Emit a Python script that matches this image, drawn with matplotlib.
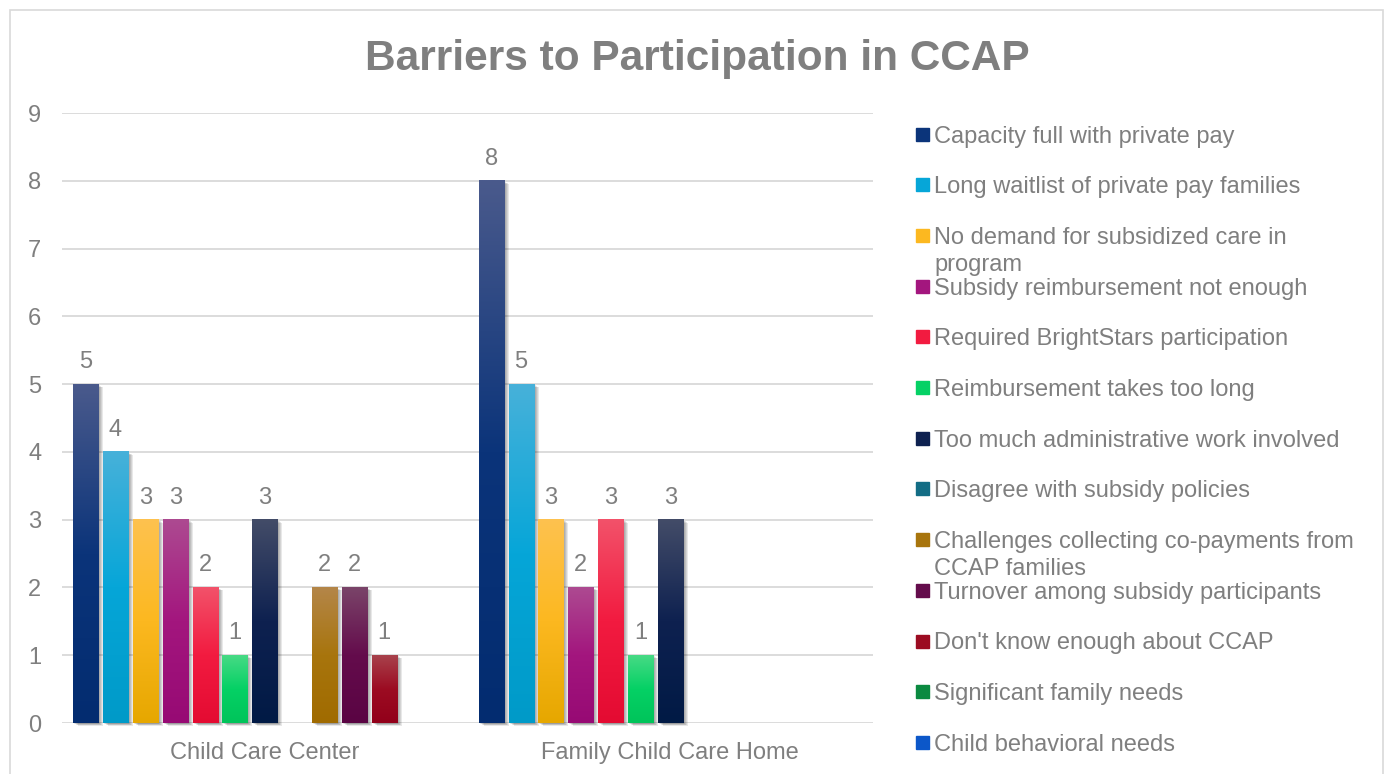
import textwrap
import numpy as np
import matplotlib
matplotlib.use("Agg")
import matplotlib.pyplot as plt
from matplotlib.colors import LinearSegmentedColormap
from matplotlib.patches import Rectangle
from matplotlib.transforms import offset_copy

plt.rcParams['font.family'] = ['Liberation Sans', 'DejaVu Sans']

categories = ["Child Care Center", "Family Child Care Home"]
barriers = [
    "Capacity full with private pay",
    "Long waitlist of private pay families",
    "No demand for subsidized care in program",
    "Subsidy reimbursement not enough",
    "Required BrightStars participation",
    "Reimbursement takes too long",
    "Too much administrative work involved",
    "Disagree with subsidy policies",
    "Challenges collecting co-payments from CCAP families",
    "Turnover among subsidy participants",
    "Don't know enough about CCAP",
    "Significant family needs",
    "Child behavioral needs",
]
center_counts = [5, 4, 3, 3, 2, 1, 3, 0, 2, 2, 1, 0, 0]
home_counts = [8, 5, 3, 2, 3, 1, 3, 0, 0, 0, 0, 0, 0]

# (top, middle, bottom) of each bar's gradient
shades = [
    ("#4a5a8c", "#0b347a", "#032c70"),
    ("#47b1da", "#06a6d8", "#009ac8"),
    ("#fec24f", "#fcb820", "#e6a700"),
    ("#ad4a91", "#a3167e", "#970a74"),
    ("#f3526a", "#f21b40", "#e40b32"),
    ("#47da85", "#05d165", "#00c45a"),
    ("#434c68", "#0e2150", "#011a45"),
    ("#4a8a9c", "#136d85", "#0b5f75"),
    ("#b48649", "#a8750d", "#a06b00"),
    ("#7a4469", "#640c4c", "#5a0443"),
    ("#a8424c", "#9c0c22", "#92001a"),
    ("#4aa56e", "#0b8a40", "#067d36"),
    ("#4a7fd8", "#0c57c9", "#0a4dbf"),
]

grey = "#7f7f7f"
W, H = 1387, 774
fig = plt.figure(figsize=(W / 100, H / 100), dpi=100)


def fx(px):
    return px / W


def fy(py):
    return 1 - py / H


ax = fig.add_axes([fx(62), fy(723), fx(873 - 62), (723 - 113) / H])

x = np.arange(len(categories))
step = 0.0736
width = 0.0617
counts = np.array([center_counts, home_counts]).T
grad = np.linspace(0, 1, 256).reshape(-1, 1)

for i, name in enumerate(barriers):
    top, mid, low = shades[i]
    cmap = LinearSegmentedColormap.from_list("g%d" % i, [(0, low), (0.5, mid), (1, top)])
    bars = ax.bar(x + (i - 6) * step, counts[i], width, color=mid, zorder=3)
    for b, v in zip(bars, counts[i]):
        if v == 0:
            continue
        x0, w, h = b.get_x(), b.get_width(), b.get_height()
        # soft drop shadow to the lower right
        for d in range(1, 6):
            tr = offset_copy(ax.transData, fig=fig, x=d, y=-d * 0.6, units="dots")
            ax.add_patch(Rectangle((x0, 0), w, h, transform=tr, color="black",
                                   alpha=0.09, lw=0, zorder=2.5, clip_on=False))
        ax.imshow(grad, extent=(x0, x0 + w, 0, h), origin="lower", cmap=cmap,
                  aspect="auto", zorder=4, interpolation="bilinear")
        ax.annotate(str(v), (x0 + w / 2, h), xytext=(0, 8), textcoords="offset points",
                    ha="center", va="bottom", fontsize=17, color=grey)

ax.set_xlim(-0.5, 1.5)
ax.set_ylim(0, 9)
ax.set_yticks(range(10))
ax.set_xticks(x)
ax.set_xticklabels(categories)
ax.grid(axis="y", color="#d9d9d9", lw=1.3, zorder=0)
ax.set_axisbelow(True)
for s in ax.spines.values():
    s.set_visible(False)
ax.tick_params(axis="both", length=0, labelsize=17, labelcolor=grey)
ax.tick_params(axis="y", pad=15)
ax.tick_params(axis="x", pad=14)

# legend down the right side; wrapped lines hang below the entry
for i, name in enumerate(barriers):
    yc = 134 + i * 50.7
    fig.patches.append(Rectangle((fx(916), fy(yc + 6.5)), fx(13), 13 / H,
                                 transform=fig.transFigure, color=shades[i][1]))
    for k, line in enumerate(textwrap.wrap(name, 38)):
        fig.text(fx(934), fy(yc + 8.5 + k * 27), line, va="baseline",
                 fontsize=17, color=grey)

fig.text(fx(697), fy(70), "Barriers to Participation in CCAP", ha="center",
         va="baseline", fontsize=30.5, weight="bold", color=grey)

fig.patches.append(Rectangle((fx(10), -0.02), fx(1373), 1 - 10 / H + 0.02, fill=False,
                             edgecolor="#d9d9d9", lw=1.2, transform=fig.transFigure))

fig.savefig("out.png", dpi=100, facecolor="white")
